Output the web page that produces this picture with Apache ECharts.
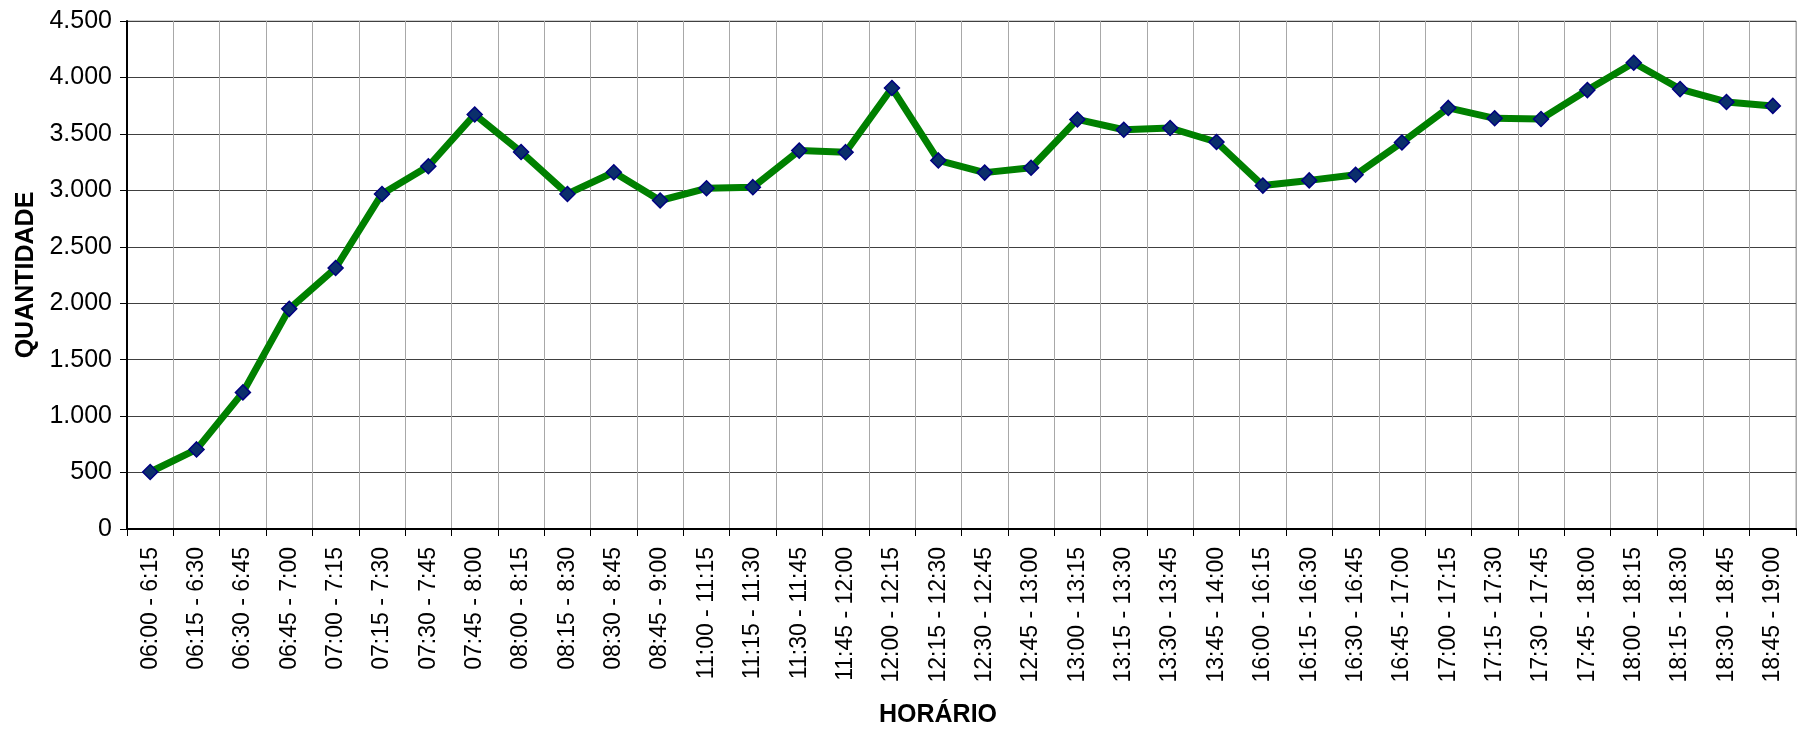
<!DOCTYPE html>
<html>
<head>
<meta charset="utf-8">
<script src="https://cdn.jsdelivr.net/npm/echarts@6/dist/echarts.min.js"></script>
<style>
    html, body { margin: 0; padding: 0; background: #fff; }
    #chart { width: 1798px; height: 730px; }
</style>
</head>
<body>
<div id="chart"></div>
<script>
// horários (intervalos de 15 min)
var horarios = ["06:00 - 6:15","06:15 - 6:30","06:30 - 6:45","06:45 - 7:00","07:00 - 7:15","07:15 - 7:30",
    "07:30 - 7:45","07:45 - 8:00","08:00 - 8:15","08:15 - 8:30","08:30 - 8:45","08:45 - 9:00",
    "11:00 - 11:15","11:15 - 11:30","11:30 - 11:45","11:45 - 12:00","12:00 - 12:15","12:15 - 12:30",
    "12:30 - 12:45","12:45 - 13:00","13:00 - 13:15","13:15 - 13:30","13:30 - 13:45","13:45 - 14:00",
    "16:00 - 16:15","16:15 - 16:30","16:30 - 16:45","16:45 - 17:00","17:00 - 17:15","17:15 - 17:30",
    "17:30 - 17:45","17:45 - 18:00","18:00 - 18:15","18:15 - 18:30","18:30 - 18:45","18:45 - 19:00"];

// quantidade por intervalo
var quantidade = [505, 705, 1210, 1950, 2312, 2968, 3213, 3672, 3340, 2968, 3160, 2910,
    3018, 3028, 3352, 3338, 3906, 3265, 3157, 3200, 3628, 3537, 3552, 3428,
    3042, 3088, 3138, 3424, 3730, 3638, 3632, 3888, 4130, 3897, 3783, 3748];

// eixo Y
var yMin = 0, yMax = 4500, yStep = 500;

var fonte = '"Liberation Sans", Arial, sans-serif';

function milhar(v) {
    return String(v).replace(/\B(?=(\d{3})+(?!\d))/g, '.');
}

var myChart = echarts.init(document.getElementById('chart'));

var option = {
    animation: false,
    backgroundColor: '#fff',
    title: {
        text: 'HORÁRIO',
        left: 933,
        top: 698,
        textAlign: 'center',
        textStyle: { fontFamily: fonte, fontSize: 25, fontWeight: 'bold', color: '#000' }
    },
    grid: {
        left: 127, right: 2, top: 21, bottom: 201,
        show: true, borderColor: '#a0a0a0', borderWidth: 1
    },
    xAxis: {
        type: 'category',
        data: horarios,
        boundaryGap: true,
        axisLine: { lineStyle: { color: '#000', width: 2 } },
        axisTick: { show: true, length: 7, lineStyle: { color: '#000' } },
        axisLabel: {
            rotate: 90, interval: 0, margin: 18,
            fontFamily: fonte, fontSize: 23, color: '#000'
        },
        splitLine: { show: true, lineStyle: { color: '#a8a8a8', width: 1 } }
    },
    yAxis: {
        type: 'value',
        min: yMin, max: yMax, interval: yStep,
        name: 'QUANTIDADE',
        nameLocation: 'middle',
        nameGap: 84,
        nameTextStyle: { fontFamily: fonte, fontSize: 25, fontWeight: 'bold', color: '#000' },
        axisLine: { show: true, lineStyle: { color: '#000', width: 2 } },
        axisTick: { show: true, length: 7, lineStyle: { color: '#000' } },
        axisLabel: {
            margin: 15, fontFamily: fonte, fontSize: 25, color: '#000',
            formatter: function (v) { return milhar(v); }
        },
        splitLine: { show: true, lineStyle: { color: '#404040', width: 1 } }
    },
    series: [{
        name: 'Quantidade',
        type: 'line',
        data: quantidade,
        symbol: 'diamond',
        symbolSize: 15,
        lineStyle: { color: '#008000', width: 7 },
        itemStyle: { color: '#0b2f6b', borderColor: '#000080', borderWidth: 1.5 }
    }]
};

myChart.setOption(option);
</script>
</body>
</html>
